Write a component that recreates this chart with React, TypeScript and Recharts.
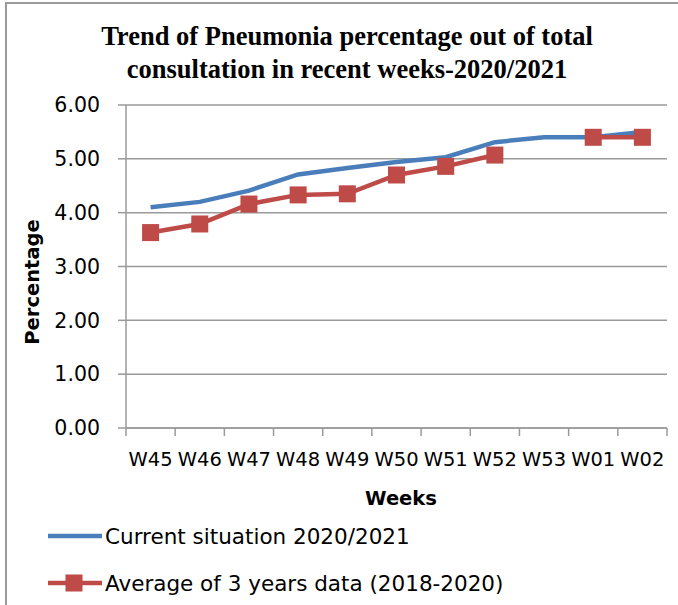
import React from "react";
import { LineChart, Line, XAxis, YAxis, CartesianGrid } from "recharts";

const weeks = ["W45", "W46", "W47", "W48", "W49", "W50", "W51", "W52", "W53", "W01", "W02"];
const current = [4.1, 4.2, 4.41, 4.71, 4.83, 4.94, 5.03, 5.31, 5.4, 5.4, 5.5];
const average = [3.63, 3.79, 4.16, 4.33, 4.35, 4.7, 4.86, 5.07, null, 5.4, 5.4];
const seriesNames = ["Current situation 2020/2021", "Average of 3 years data (2018-2020)"];
const yTicks = [0, 1, 2, 3, 4, 5, 6];

const data = weeks.map((w, i) => ({ week: w, current: current[i], average: average[i] }));

const BLUE = "#4a7ebb";
const RED = "#be4b48";
const GRID = "#9a9a9a";
const SANS = "'DejaVu Sans', 'Open Sans', sans-serif";
const HALF = 541 / 11 / 2;

const WeekTick = (props: any) => {
  const { x, y, payload, index } = props;
  return (
    <g>
      <line x1={x - HALF} y1={y - 8} x2={x - HALF} y2={y} stroke={GRID} strokeWidth={1.5} />
      {index === weeks.length - 1 && (
        <line x1={x + HALF} y1={y - 8} x2={x + HALF} y2={y} stroke={GRID} strokeWidth={1.5} />
      )}
      <text x={x} y={y + 30} textAnchor="middle" fontFamily={SANS} fontSize={19.5} fill="#000">
        {payload.value}
      </text>
    </g>
  );
};

const SquareDot = (props: any) => {
  const { cx, cy, value } = props;
  if (value == null || cx == null || cy == null) return null;
  return <rect x={cx - 8.5} y={cy - 8.5} width={17} height={17} fill={RED} />;
};

export default function App() {
  return (
    <div style={{ position: "absolute", left: 0, top: 0, width: 678, height: 605, background: "#fff" }}>
      <div
        style={{
          position: "absolute",
          left: 5,
          top: 2,
          right: 0,
          bottom: 0,
          borderLeft: "2px solid #9a9a9a",
          borderTop: "2px solid #9a9a9a",
        }}
      />
      <div
        style={{
          position: "absolute",
          left: 0,
          top: 20,
          width: 694,
          textAlign: "center",
          fontFamily: "'Liberation Serif', 'Times New Roman', serif",
          fontWeight: "bold",
          fontSize: 26.5,
          lineHeight: "33px",
          color: "#000",
        }}
      >
        Trend of Pneumonia percentage out of total
        <br />
        consultation in recent weeks-2020/2021
      </div>
      <LineChart
        width={678}
        height={605}
        data={data}
        margin={{ top: 105, right: 11, bottom: 137, left: 0 }}
        style={{ position: "absolute", left: 0, top: 0 }}
      >
        <CartesianGrid vertical={false} stroke={GRID} strokeWidth={1.5} />
        <XAxis
          dataKey="week"
          height={40}
          padding={{ left: HALF, right: HALF }}
          stroke={GRID}
          strokeWidth={1.5}
          tickLine={false}
          tick={<WeekTick />}
          interval={0}
          label={{
            content: () => (
              <text x={401} y={505} textAnchor="middle" fontFamily={SANS} fontWeight="bold" fontSize={19.5} fill="#000">
                Weeks
              </text>
            ),
          }}
        />
        <YAxis
          width={126}
          domain={[0, 6]}
          ticks={yTicks}
          tickFormatter={(v: number) => v.toFixed(2)}
          stroke={GRID}
          strokeWidth={1.5}
          tickSize={8}
          tickMargin={18}
          tick={{ fontFamily: SANS, fontSize: 20.5, fill: "#000" }}
          label={{
            content: () => (
              <text
                x={39}
                y={282}
                transform="rotate(-90 39 282)"
                textAnchor="middle"
                fontFamily={SANS}
                fontWeight="bold"
                fontSize={19.5}
                fill="#000"
              >
                Percentage
              </text>
            ),
          }}
        />
        <Line
          dataKey="current"
          name={seriesNames[0]}
          stroke={BLUE}
          strokeWidth={4.5}
          dot={false}
          isAnimationActive={false}
        />
        <Line
          dataKey="average"
          name={seriesNames[1]}
          stroke={RED}
          strokeWidth={4.5}
          dot={<SquareDot />}
          activeDot={false}
          connectNulls={false}
          isAnimationActive={false}
        />
      </LineChart>
      {seriesNames.map((name, i) => (
        <div
          key={name}
          style={{
            position: "absolute",
            left: 47,
            top: i === 0 ? 520 : 567,
            height: 32,
            display: "flex",
            alignItems: "center",
            fontFamily: SANS,
            fontSize: 21.5,
            color: "#000",
            whiteSpace: "nowrap",
          }}
        >
          <svg width={58} height={32}>
            <line x1={1} y1={16} x2={55} y2={16} stroke={i === 0 ? BLUE : RED} strokeWidth={4.5} />
            {i === 1 && <rect x={18.5} y={7.5} width={17} height={17} fill={RED} />}
          </svg>
          <span>{name}</span>
        </div>
      ))}
    </div>
  );
}
